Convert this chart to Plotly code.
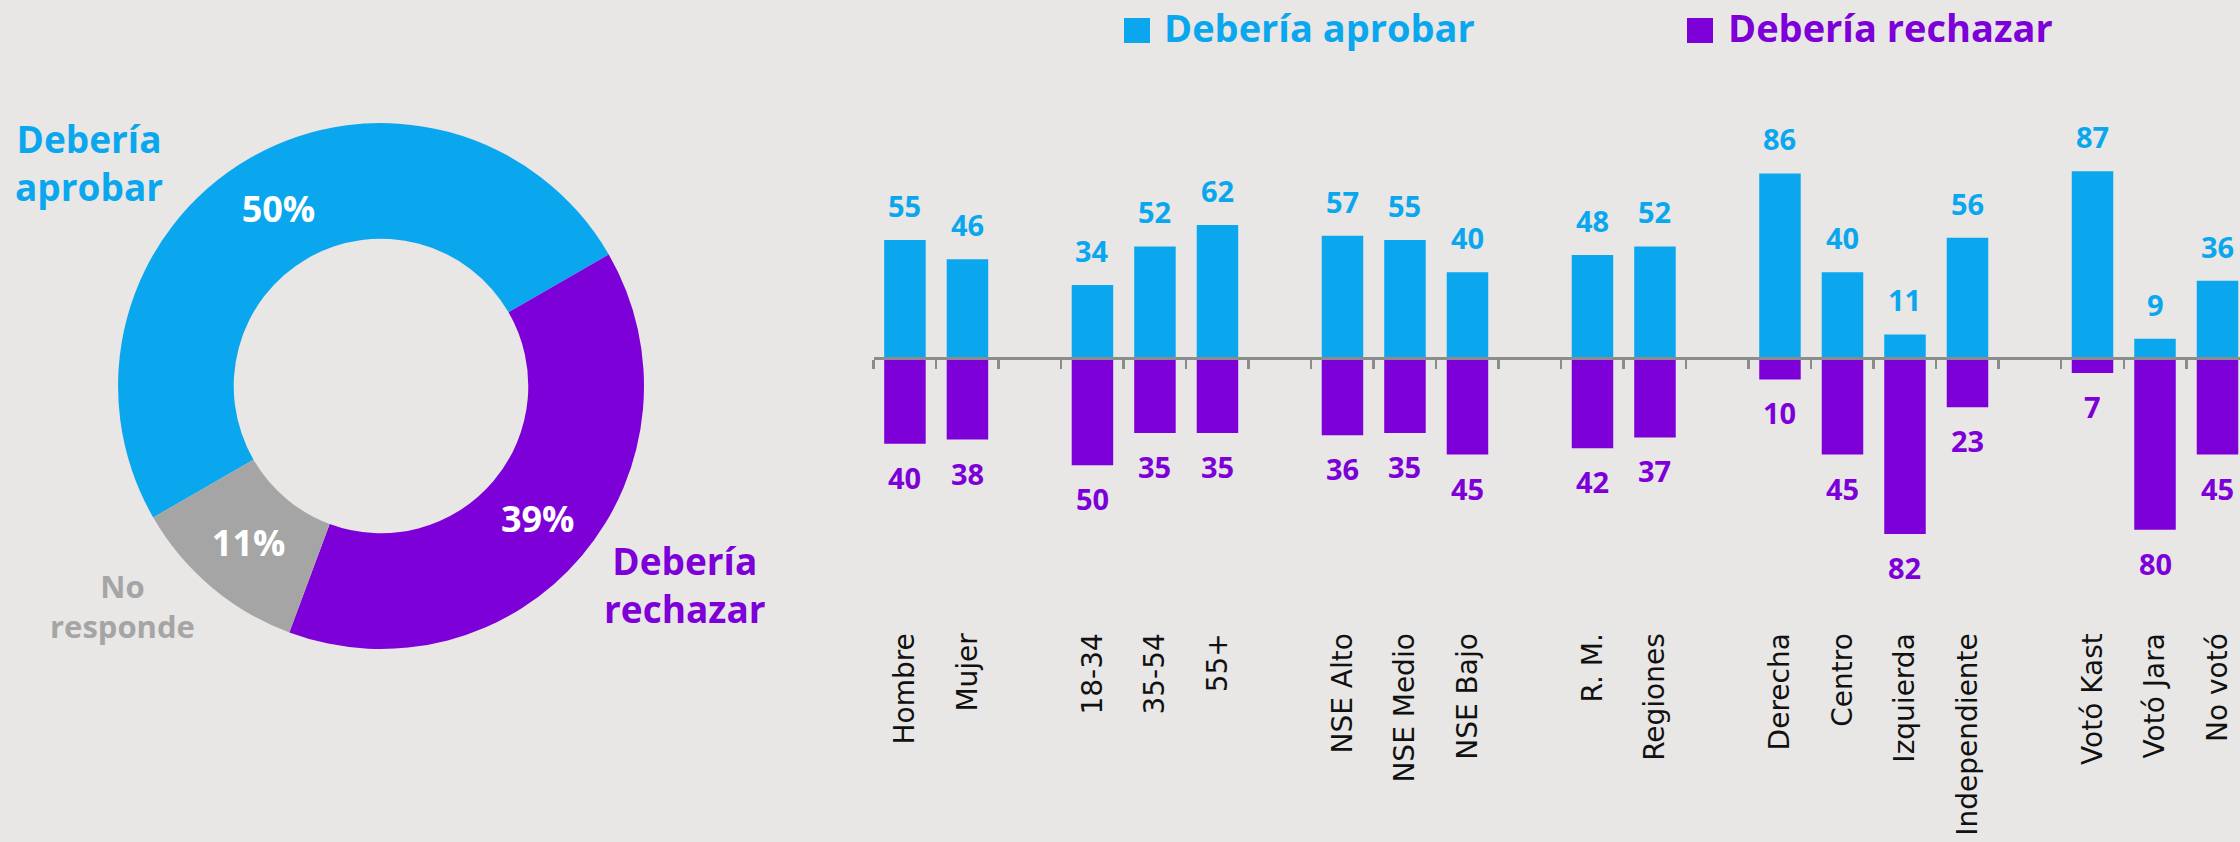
import plotly.graph_objects as go

BG = "#E8E7E5"
BLUE = "#0BA7EE"
PURPLE = "#7D00D8"
GRAY = "#A5A5A5"
AXIS = "#8C8C8C"
BOLD = "Open Sans"
REG = "DejaVu Sans"

# ---- donut data ----
pie_labels = ["Debería aprobar", "Debería rechazar", "No responde"]
pie_values = [50, 39, 11]
pie_colors = [BLUE, PURPLE, GRAY]

# ---- bar data (blank categories separate the groups) ----
categories = ["Hombre", "Mujer", " ",
              "18-34", "35-54", "55+", "  ",
              "NSE Alto", "NSE Medio", "NSE Bajo", "   ",
              "R. M.", "Regiones", "    ",
              "Derecha", "Centro", "Izquierda", "Independiente", "     ",
              "Votó Kast", "Votó Jara", "No votó"]
aprobar = [55, 46, None, 34, 52, 62, None, 57, 55, 40, None, 48, 52, None,
           86, 40, 11, 56, None, 87, 9, 36]
rechazar = [40, 38, None, 50, 35, 35, None, 36, 35, 45, None, 42, 37, None,
            10, 45, 82, 23, None, 7, 80, 45]
series_names = ["Debería aprobar", "Debería rechazar"]

W, H = 2240, 842

fig = go.Figure()

fig.add_trace(go.Pie(
    labels=pie_labels, values=pie_values,
    marker=dict(colors=pie_colors, line=dict(width=0)),
    hole=0.56, sort=False, direction="clockwise", rotation=240,
    textinfo="percent", textposition="inside",
    insidetextorientation="horizontal",
    textfont=dict(family=BOLD, size=36, color="white", weight="bold"),
    domain=dict(x=[118 / W, 644 / W], y=[1 - 649 / H, 1 - 123 / H]),
    showlegend=False, hoverinfo="skip",
))

fig.add_trace(go.Bar(
    x=categories, y=aprobar, name=series_names[0],
    marker=dict(color=BLUE, line=dict(width=0)),
    showlegend=False, hoverinfo="skip",
))
fig.add_trace(go.Bar(
    x=categories, y=[None if v is None else -v for v in rechazar],
    name=series_names[1],
    marker=dict(color=PURPLE, line=dict(width=0)),
    showlegend=False, hoverinfo="skip",
))

annotations = []
for c, a, r in zip(categories, aprobar, rechazar):
    if a is not None:
        annotations.append(dict(
            x=c, y=a, xref="x", yref="y", text=str(a), showarrow=False,
            yanchor="bottom", yshift=13,
            font=dict(family=BOLD, size=29, color=BLUE, weight="bold")))
    if r is not None:
        annotations.append(dict(
            x=c, y=-r, xref="x", yref="y", text=str(r), showarrow=False,
            yanchor="top", yshift=-12,
            font=dict(family=BOLD, size=29, color=PURPLE, weight="bold")))

# donut outside labels
annotations += [
    dict(x=89 / W, y=1 - 163 / H, xref="paper", yref="paper",
         text="Debería<br>aprobar", showarrow=False, xanchor="center",
         yanchor="middle", align="center",
         font=dict(family=BOLD, size=37, color=BLUE, weight="bold")),
    dict(x=685 / W, y=1 - 584 / H, xref="paper", yref="paper",
         text="Debería<br>rechazar", showarrow=False, xanchor="center",
         yanchor="middle", align="center",
         font=dict(family=BOLD, size=37, color=PURPLE, weight="bold")),
    dict(x=122 / W, y=1 - 606 / H, xref="paper", yref="paper",
         text="No<br>responde", showarrow=False, xanchor="center",
         yanchor="middle", align="center",
         font=dict(family=BOLD, size=31, color=GRAY, weight="bold")),
]

# legend (top)
legend_items = [(series_names[0], BLUE, 1124, 1162), (series_names[1], PURPLE, 1687, 1726)]
shapes = []
for name, col, sx, tx in legend_items:
    shapes.append(dict(type="rect", xref="paper", yref="paper",
                       x0=sx / W, x1=(sx + 26) / W, y0=1 - 43 / H, y1=1 - 18 / H,
                       fillcolor=col, line=dict(width=0)))
    annotations.append(dict(x=tx / W, y=1 - 27 / H, xref="paper", yref="paper",
                            text=name, showarrow=False, xanchor="left", yanchor="middle",
                            font=dict(family=BOLD, size=38, color=col, weight="bold")))

zero_px = 358
px_per_unit = 2.146

fig.update_layout(
    width=W, height=H,
    paper_bgcolor=BG, plot_bgcolor=BG,
    margin=dict(l=0, r=0, t=0, b=0),
    barmode="relative", bargap=0.336,
    annotations=annotations, shapes=shapes,
    showlegend=False,
    xaxis=dict(
        domain=[873.7 / W, 1.0], range=[-0.5, 21.36],
        type="category", categoryorder="array", categoryarray=categories,
        anchor="free", position=1 - zero_px / H,
        showline=True, linecolor=AXIS, linewidth=3,
        ticks="outside", tickson="boundaries", ticklen=9, tickwidth=2.5,
        tickcolor=AXIS, tickangle=-90,
        tickfont=dict(family=REG, size=28, color="#111111"),
        ticklabelstandoff=262,
        showgrid=False, zeroline=False, automargin=False, fixedrange=True,
    ),
    yaxis=dict(
        domain=[0, 1],
        range=[-(H - zero_px) / px_per_unit, zero_px / px_per_unit],
        visible=False, showgrid=False, zeroline=False, fixedrange=True,
    ),
)

fig.write_html(
    "out.html",
    config={"displayModeBar": False, "staticPlot": True},
    post_script=("document.body.style.margin='0';"
                 "document.body.style.overflow='hidden';"
                 "document.body.style.background='" + BG + "';"),
)
